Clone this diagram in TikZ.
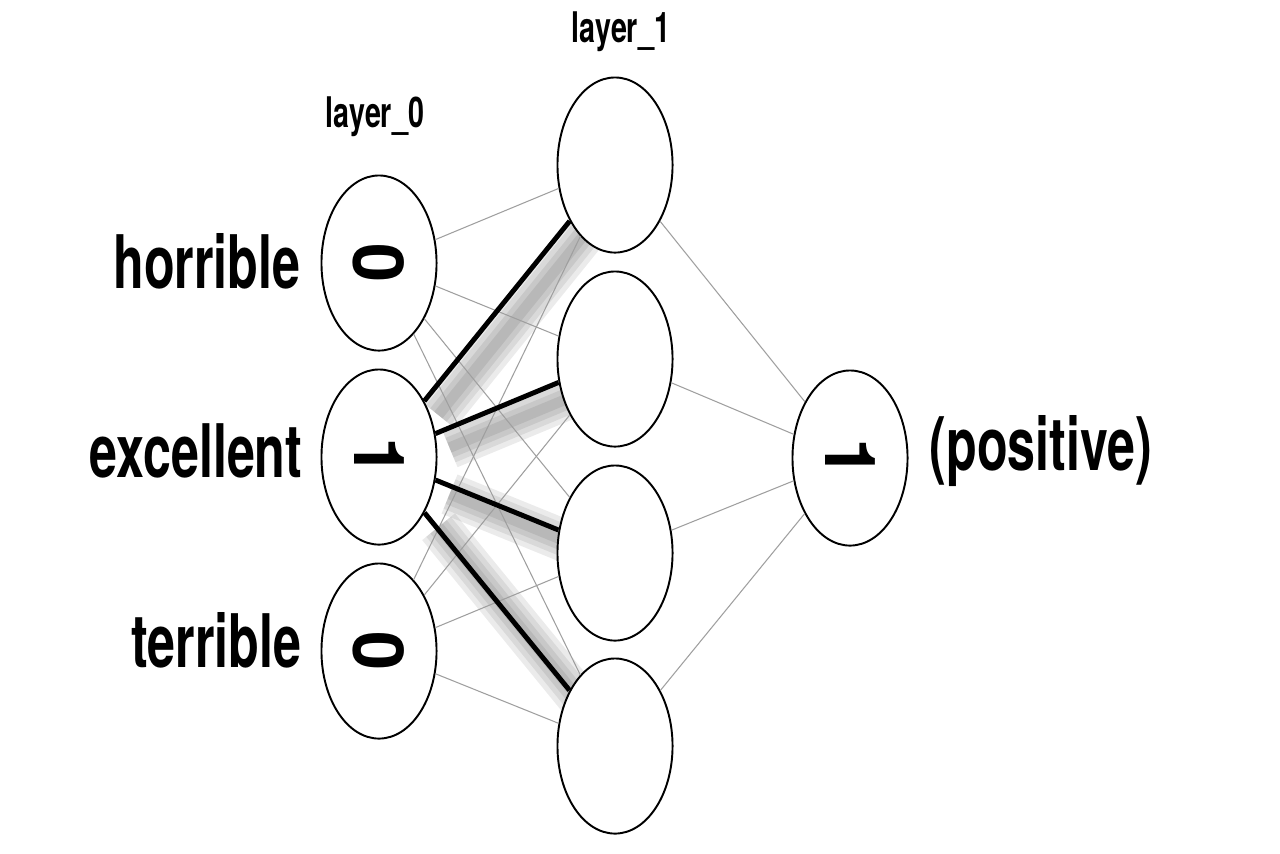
\documentclass[tikz,border=0pt]{standalone}
\usepackage{graphicx}
\usepackage{fontspec}
\newfontfamily\nnfont[FakeStretch=0.68]{TeX Gyre Heros}
\newfontfamily\digitfont{TeX Gyre Heros}
\usetikzlibrary{shapes.geometric, backgrounds}

\tikzset{
  neuron/.style={draw, ellipse, fill=white, line width=0.55pt, minimum width=1.15cm, minimum height=1.75cm, inner sep=0pt, font=\digitfont\bfseries\fontsize{20}{20}\selectfont},
  word/.style={font=\nnfont\bfseries\fontsize{21}{24}\selectfont, inner sep=0pt},
  layername/.style={font=\nnfont\bfseries\fontsize{12}{14}\selectfont, inner sep=0pt},
  synapse/.style={draw=gray!75, line width=0.3pt},
  strong/.style={draw=black, line width=1.4pt},
}

\begin{document}
\begin{tikzpicture}[x=0.01cm, y=-0.01cm]
\useasboundingbox (0,0) rectangle (1280,853);
% input layer
\foreach \name/\y/\val in {h0/263/0, e0/457/1, t0/651/0}
    \node[neuron] (\name) at (379,\y) {\rotatebox{-90}{\val}};
% hidden layer
\foreach \i/\y in {1/165, 2/359, 3/553, 4/746}
    \node[neuron] (n\i) at (615,\y) {};
% output
\node[neuron] (out) at (850,458) {\rotatebox{-90}{1}};

\node[word, anchor=base east] (horrible) at (301,288) {horrible};
\node[word, anchor=base east] (excellent) at (303,477) {excellent};
\node[word, anchor=base east] (terrible) at (302,667) {terrible};
\node[word, anchor=base west] (positive) at (929,470) {(positive)};
\node[layername, anchor=base] (l0) at (375,127) {layer\_0};
\node[layername, anchor=base] (l1) at (621,42) {layer\_1};

\foreach \a in {h0, e0, t0}
    \foreach \b in {n1, n2, n3, n4}
        \draw[synapse] (\a) -- (\b);
\foreach \b in {n1, n2, n3, n4}
    \draw[synapse] (\b) -- (out);

% excellent is on: its weights stand out
\begin{pgfonlayer}{background}
\begin{scope}[transform canvas={shift={(4pt,-4pt)}}]
\foreach \b in {n1, n2, n3, n4}
    \foreach \w in {12, 9, 6, 3}
        \draw[line width=\w pt, black, opacity=0.08] (e0) -- (\b);
\end{scope}
\end{pgfonlayer}
\foreach \b in {n1, n2, n3, n4}
    \draw[strong] (e0) -- (\b);
\end{tikzpicture}
\end{document}
